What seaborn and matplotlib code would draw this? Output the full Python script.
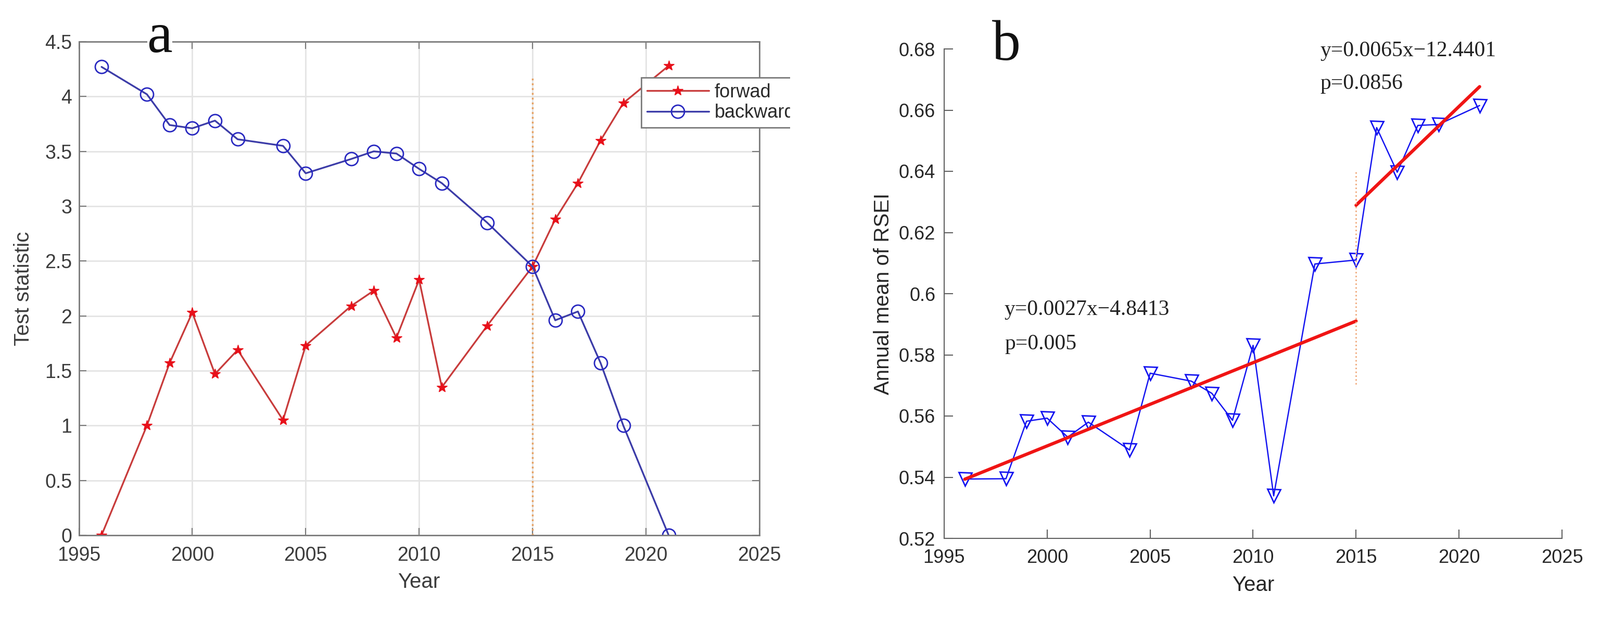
import numpy as np
import matplotlib
matplotlib.use("Agg")
import matplotlib.pyplot as plt
import seaborn as sns
from matplotlib.patches import Rectangle

# data
years = [1996, 1998, 1999, 2000, 2001, 2002, 2004, 2005, 2007, 2008,
         2009, 2010, 2011, 2013, 2015, 2016, 2017, 2018, 2019, 2021]
forward = [0.0, 1.0, 1.57, 2.03, 1.47, 1.69, 1.05, 1.73, 2.09, 2.23,
           1.80, 2.33, 1.35, 1.91, 2.45, 2.88, 3.21, 3.60, 3.94, 4.28]
backward = [4.27, 4.02, 3.74, 3.71, 3.78, 3.61, 3.55, 3.30, 3.43, 3.50,
            3.48, 3.34, 3.21, 2.85, 2.45, 1.96, 2.04, 1.57, 1.00, 0.0]
rsei = [0.5394, 0.5395, 0.5583, 0.5593, 0.5531, 0.5580, 0.5489, 0.5740, 0.5714, 0.5674,
        0.5586, 0.5831, 0.5339, 0.6097, 0.6110, 0.6543, 0.6397, 0.6550, 0.6553, 0.6615]
break_year = 2015
vline_a = (0.0, 4.18)
vline_b = (0.5704, 0.6403)
x_ticks = [1995, 2000, 2005, 2010, 2015, 2020, 2025]
ya_ticks = [0, 0.5, 1, 1.5, 2, 2.5, 3, 3.5, 4, 4.5]
yb_ticks = [0.52, 0.54, 0.56, 0.58, 0.6, 0.62, 0.64, 0.66, 0.68]
eq1 = ["y=0.0027x\u22124.8413", "p=0.005"]
eq2 = ["y=0.0065x\u221212.4401", "p=0.0856"]

sns.set_theme(style="white")
plt.rcParams['font.family'] = ['Liberation Sans', 'DejaVu Sans']

W, H = 3074, 1185
fig = plt.figure(figsize=(W / 100, H / 100), dpi=100)
ax1 = fig.add_axes([151.5 / W, 1 - 1028 / H, 1307.5 / W, 948 / H])
ax2 = fig.add_axes([1814 / W, 1 - 1034 / H, 1187 / W, 940 / H])

# ---- panel a ----
sns.lineplot(x=years, y=forward, ax=ax1, color='#c83c3c', linewidth=2.4,
             marker='*', markersize=15, markerfacecolor='#e8101a',
             markeredgecolor='#e8101a', markeredgewidth=1, label='forwad')
sns.lineplot(x=years, y=backward, ax=ax1, color='#3c3ca8', linewidth=2.4,
             marker='o', markersize=18, markerfacecolor='none',
             markeredgecolor='#2828c0', markeredgewidth=2, label='backward')
ax1.vlines(break_year, *vline_a, colors='#e6a060', linestyles=':', linewidth=2.5, zorder=1.5)

ax1.set_xlim(1995, 2025)
ax1.set_ylim(0, 4.5)
ax1.set_xticks(x_ticks)
ax1.set_yticks(ya_ticks)
ax1.set_yticklabels([f"{v:g}" for v in ya_ticks])
ax1.grid(True, color='#e4e4e4', linewidth=2)
ax1.tick_params(direction='in', bottom=True, left=True, top=True, right=True,
                length=10, width=1.5, color='#7a7a7a', labelcolor='#3c3c3c',
                labelsize=27)
ax1.tick_params(axis='x', pad=15)
ax1.tick_params(axis='y', pad=9.5)
for s in ax1.spines.values():
    s.set_color('#7a7a7a')
    s.set_linewidth(2)
ax1.set_xlabel('Year', fontsize=29, color='#3c3c3c')
ax1.set_ylabel('Test statistic', fontsize=29, color='#3c3c3c')
ax1.xaxis.set_label_coords(0.5, -0.0754)
ax1.yaxis.set_label_coords(-0.0669, 0.5)
leg = ax1.legend(loc='upper left', bbox_to_anchor=(0.8264, 0.9272), borderaxespad=0,
                 fontsize=26, frameon=True, fancybox=False, framealpha=1,
                 edgecolor='#7a7a7a', handlelength=3.3, handletextpad=0.3,
                 borderpad=0.3, labelspacing=0.12)
leg.get_frame().set_linewidth(2)
for t in leg.get_texts():
    t.set_color('#2a2a2a')

# ---- panel b ----
sns.lineplot(x=years, y=rsei, ax=ax2, color='#1414f0', linewidth=1.8,
             marker='v', markersize=18, markerfacecolor='none',
             markeredgecolor='#1414f0', markeredgewidth=2)
yrs = np.array(years, dtype=float)
vals = np.array(rsei)
for m in (yrs <= break_year, yrs >= break_year):
    coef = np.polyfit(yrs[m], vals[m], 1)
    sns.lineplot(x=yrs[m], y=np.polyval(coef, yrs[m]), ax=ax2,
                 color='#f01414', linewidth=4.5)
ax2.vlines(break_year, *vline_b, colors='#f0a878', linestyles=':', linewidth=2)

ax2.set_xlim(1995, 2025)
ax2.set_ylim(0.52, 0.68)
ax2.set_xticks(x_ticks)
ax2.set_yticks(yb_ticks)
ax2.set_yticklabels([f"{v:g}" for v in yb_ticks])
ax2.tick_params(direction='in', bottom=True, left=True, length=12, width=1.5,
                color='#606060', labelcolor='#262626', labelsize=26)
ax2.tick_params(axis='x', pad=14.5)
ax2.tick_params(axis='y', pad=12)
ax2.spines['top'].set_visible(False)
ax2.spines['right'].set_visible(False)
for k in ('left', 'bottom'):
    ax2.spines[k].set_color('#606060')
    ax2.spines[k].set_linewidth(1.5)
ax2.set_xlabel('Year', fontsize=29, color='#262626')
ax2.set_ylabel('Annual mean of RSEI', fontsize=29, color='#262626')
ax2.xaxis.set_label_coords(0.5, -0.0755)
ax2.yaxis.set_label_coords(-0.0826, 0.5)

serif = ['Liberation Serif', 'DejaVu Serif']
ax2.text(1997.93, 0.5947, eq1[0], family=serif, fontsize=30, color='#222222', va='center')
ax2.text(1997.93, 0.5835, eq1[1], family=serif, fontsize=30, color='#222222', va='center')
ax2.text(2013.25, 0.6793, eq2[0], family=serif, fontsize=30, color='#222222', va='center')
ax2.text(2013.25, 0.6686, eq2[1], family=serif, fontsize=30, color='#222222', va='center')

# panel letters
fig.text(307 / W, 1 - 100 / H, 'a', family=serif, fontsize=79, ha='center',
         va='baseline', color='#111111',
         bbox=dict(boxstyle='square,pad=0', facecolor='white', edgecolor='none'))
fig.text(1933 / W, 1 - 115 / H, 'b', family=serif, fontsize=79, ha='center',
         va='baseline', color='#111111')

# the source picture of panel a is cut off just right of the legend
fig.add_artist(Rectangle((1518 / W, 0), 84 / W, 1, transform=fig.transFigure,
                         facecolor='white', edgecolor='none', zorder=10))

fig.savefig('out.png', dpi=100, facecolor='white')
